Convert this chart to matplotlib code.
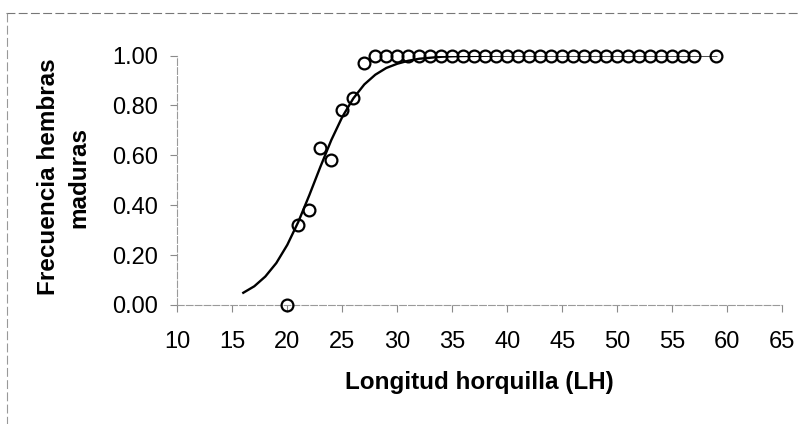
import matplotlib.pyplot as plt
from matplotlib.lines import Line2D
from matplotlib.ticker import FormatStrFormatter

plt.rcParams['font.family'] = ['Liberation Sans', 'DejaVu Sans']

# observed proportion of mature females by fork length
lh_obs = [20, 21, 22, 23, 24, 25, 26, 27, 28, 29, 30, 31, 32, 33, 34, 35, 36,
          37, 38, 39, 40, 41, 42, 43, 44, 45, 46, 47, 48, 49, 50, 51, 52, 53,
          54, 55, 56, 57, 59]
freq_obs = [0.00, 0.32, 0.38, 0.63, 0.58, 0.78, 0.83, 0.97] + [1.00] * 31

# fitted maturity ogive
lh_fit = [16, 17, 18, 19, 20, 21, 22, 23, 24, 25, 26, 27, 28, 29, 30, 31, 32,
          33, 34, 35, 36, 38, 40, 59]
freq_fit = [0.049, 0.075, 0.114, 0.168, 0.241, 0.333, 0.440, 0.553, 0.661,
            0.754, 0.828, 0.884, 0.923, 0.950, 0.967, 0.979, 0.987, 0.991,
            0.995, 0.997, 0.998, 0.999, 1.000, 1.000]

x_ticks = [10, 15, 20, 25, 30, 35, 40, 45, 50, 55, 60, 65]
y_ticks = [0.0, 0.2, 0.4, 0.6, 0.8, 1.0]

fig = plt.figure(figsize=(8.07, 4.24), dpi=100)
ax = fig.add_axes([0.2197, 0.2807, 0.7497, 0.5884])

ax.plot(lh_fit, freq_fit, color='black', lw=1.7, zorder=2)
ax.plot(lh_obs, freq_obs, linestyle='none', marker='o', markersize=8.5,
        markerfacecolor='none', markeredgecolor='black', markeredgewidth=1.6,
        zorder=3, clip_on=False)

ax.set_xlim(10, 65)
ax.set_ylim(0, 1)
ax.set_xticks(x_ticks)
ax.set_yticks(y_ticks)
ax.yaxis.set_major_formatter(FormatStrFormatter('%.2f'))

for side in ['top', 'right']:
    ax.spines[side].set_visible(False)
for side in ['left', 'bottom']:
    ax.spines[side].set_color('#9a9a9a')
    ax.spines[side].set_linewidth(0.8)
    ax.spines[side].set_linestyle((0, (6, 2)))

ax.tick_params(axis='both', direction='out', length=5, width=0.8,
               color='#8a8a8a', labelsize=17, labelcolor='black')
ax.tick_params(axis='y', pad=9)
ax.tick_params(axis='x', pad=14)

ax.set_xlabel('Longitud horquilla (LH)', fontsize=17.5, fontweight='bold',
              labelpad=13)
fig.text(0.079, 0.5825, 'Frecuencia hembras\nmaduras', rotation=90,
         ha='center', va='center', fontsize=17.5, fontweight='bold',
         linespacing=1.45, multialignment='center')

# chart area border
fig.add_artist(Line2D([0.007, 0.99], [0.969, 0.969], transform=fig.transFigure,
                      color='#777777', lw=0.8, linestyle=(0, (8, 3))))
fig.add_artist(Line2D([0.009, 0.009], [0.969, 0.0], transform=fig.transFigure,
                      color='#999999', lw=0.8, linestyle=(0, (8, 3))))

fig.savefig('out.png', dpi=100)
